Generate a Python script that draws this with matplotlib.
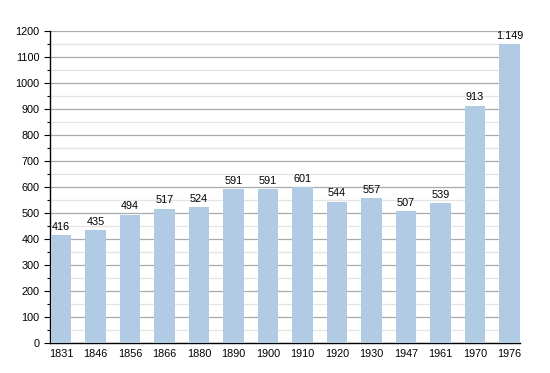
import matplotlib
matplotlib.use("Agg")
import matplotlib.pyplot as plt
from matplotlib.ticker import MultipleLocator

years = ["1831", "1846", "1856", "1866", "1880", "1890", "1900", "1910", "1920", "1930", "1947", "1961", "1970", "1976"]
population = [416, 435, 494, 517, 524, 591, 591, 601, 544, 557, 507, 539, 913, 1149]
labels = ["416", "435", "494", "517", "524", "591", "591", "601", "544", "557", "507", "539", "913", "1.149"]

plt.rcParams['font.family'] = ['Liberation Sans', 'DejaVu Sans']

fig = plt.figure(figsize=(5.5, 3.73), dpi=100)
ax = fig.add_axes([0.091, 0.0804, 0.854, 0.8366])

x = list(range(len(years)))
ax.bar(x, population, width=0.6, color='#b1cbe5', zorder=3)

for xi, v, lab in zip(x, population, labels):
    ax.text(xi, v + 12, lab, ha='center', va='bottom', fontsize=7.8, color='#000000', zorder=4)

ax.set_xlim(-0.32, 13.3)
ax.set_ylim(0, 1200)
ax.yaxis.set_major_locator(MultipleLocator(100))
ax.yaxis.set_minor_locator(MultipleLocator(50))
ax.grid(axis='y', which='major', color='#aaaaaa', linewidth=0.9, zorder=1)
ax.grid(axis='y', which='minor', color='#e4e4e4', linewidth=0.9, zorder=1)
ax.set_xticks(x)
ax.set_xticklabels(years)
ax.tick_params(axis='x', length=0, labelsize=7.8, pad=4, labelcolor='#000000')
ax.tick_params(axis='y', which='major', length=4, labelsize=7.8, width=0.8, labelcolor='#000000')
ax.tick_params(axis='y', which='minor', length=2, width=0.8)
for s in ['top', 'right']:
    ax.spines[s].set_visible(False)
ax.spines['left'].set_linewidth(1)
ax.spines['bottom'].set_linewidth(1)

fig.savefig("out.png", dpi=100)
